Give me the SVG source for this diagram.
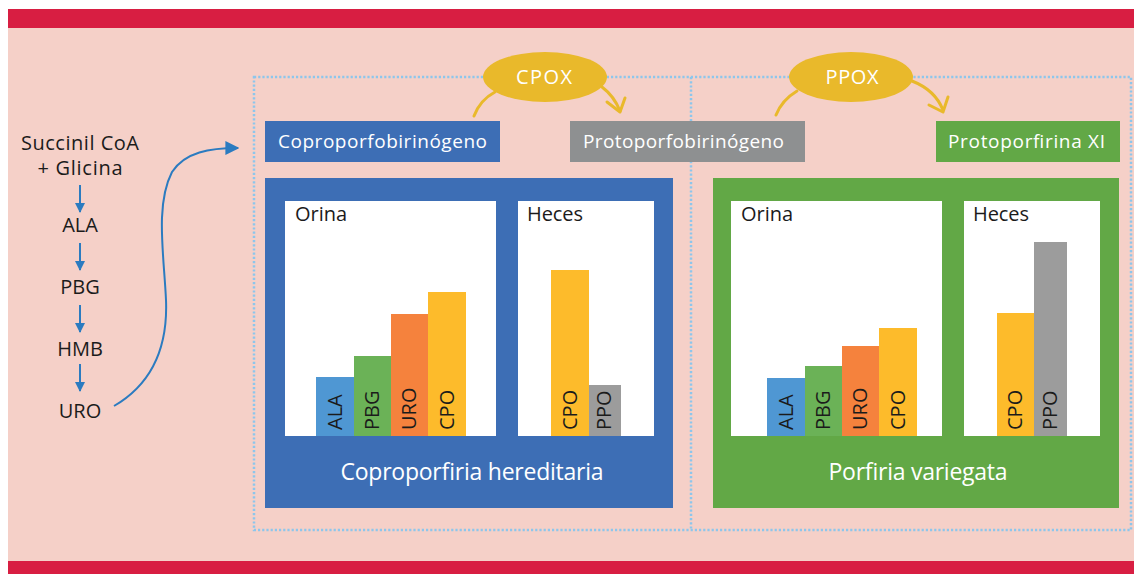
<svg xmlns="http://www.w3.org/2000/svg" width="1134" height="574" viewBox="0 0 1134 574">
<defs>
<style>
.t{font-family:"Open Sans","Liberation Sans",Arial,sans-serif;}
.dk{fill:#1b1b1b;font-size:20px;}
.wt{fill:#ffffff;}
.dot{fill:none;stroke:#8DC6EC;stroke-width:2.5;stroke-dasharray:2.2 2;}
.enz{fill:#E9B92B;}
.ea{fill:none;stroke:#E9B92B;stroke-width:3;stroke-linecap:round;stroke-linejoin:round;}
.ba{fill:none;stroke:#2B7BC0;stroke-width:2;}
.panel{fill:#ffffff;}
.bl{fill:#1b1b1b;font-size:20px;}
</style>
<marker id="ah" viewBox="0 0 10 10" refX="9" refY="5" markerWidth="5" markerHeight="5" orient="auto" markerUnits="strokeWidth">
<path d="M0,0 L10,5 L0,10 z" fill="#2B7BC0"/>
</marker>
<marker id="ah2" viewBox="0 0 10 10" refX="9" refY="5" markerWidth="7" markerHeight="7" orient="auto" markerUnits="strokeWidth">
<path d="M0,0 L10,5 L0,10 z" fill="#2B7BC0"/>
</marker>
</defs>
<rect x="0" y="0" width="1134" height="574" fill="#ffffff"/>
<rect x="8" y="9" width="1126" height="565" fill="#F5D0C8"/>
<rect x="8" y="9" width="1126" height="19" fill="#D81E42"/>
<rect x="8" y="561" width="1126" height="13" fill="#D81E42"/>

<g id="frame">
<rect class="dot" x="254" y="77" width="877" height="453"/>
<line class="dot" x1="691" y1="77" x2="691" y2="530"/>
</g>

<g id="pathway" class="t">
<text class="dk" x="80" y="150" text-anchor="middle" textLength="118">Succinil CoA</text>
<text class="dk" x="80" y="175" text-anchor="middle" textLength="85">+ Glicina</text>
<text class="dk" x="80" y="232" text-anchor="middle">ALA</text>
<text class="dk" x="80" y="294" text-anchor="middle">PBG</text>
<text class="dk" x="80" y="356" text-anchor="middle">HMB</text>
<text id="uro" class="dk" x="80" y="418" text-anchor="middle">URO</text>
</g>

<g id="connectors">
<line class="ba" x1="80" y1="185" x2="80" y2="212" marker-end="url(#ah)"/>
<line class="ba" x1="80" y1="243" x2="80" y2="270" marker-end="url(#ah)"/>
<line class="ba" x1="80" y1="305" x2="80" y2="332" marker-end="url(#ah)"/>
<line class="ba" x1="80" y1="364" x2="80" y2="391" marker-end="url(#ah)"/>
<path class="ba" d="M114,406 C150,385 168,350 166,300 C164,255 155,205 172,172 C185,152 210,148 238,148" marker-end="url(#ah2)"/>
<path class="ea" d="M474,116 Q480,100 495,92"/>
<path class="ea" d="M602,87 Q614,96 620,111"/>
<path class="ea" d="M607,102 L620,112 L625,98"/>
<path class="ea" d="M776,115 Q782,100 797,91"/>
<path class="ea" d="M912,81 Q935,90 943,110"/>
<path class="ea" d="M929,105 L943,112 L948,97"/>
</g>

<g id="cpox" class="t">
<ellipse class="enz" cx="545" cy="77" rx="62" ry="25"/>
<text class="wt" x="544" y="84" font-size="20" text-anchor="middle" textLength="56">CPOX</text>
</g>
<g id="ppox" class="t">
<ellipse class="enz" cx="851" cy="77" rx="62" ry="25"/>
<text class="wt" x="852" y="84" font-size="20" text-anchor="middle" textLength="53">PPOX</text>
</g>

<g id="coproporfobirinogeno" class="t">
<rect x="265" y="121" width="235" height="41" fill="#3D6EB5"/>
<text class="wt" x="278" y="148" font-size="19" textLength="209">Coproporfobirinógeno</text>
</g>
<g id="protoporfobirinogeno" class="t">
<rect x="570" y="121" width="235" height="41" fill="#8E9091"/>
<text class="wt" x="583" y="148" font-size="19" textLength="201">Protoporfobirinógeno</text>
</g>
<g id="protoporfirina" class="t">
<rect x="936" y="121" width="184" height="41" fill="#62A846"/>
<text class="wt" x="948" y="148" font-size="19" textLength="157">Protoporfirina XI</text>
</g>

<g id="coproporfiria" class="t">
<rect x="265" y="178" width="408" height="330" fill="#3D6EB5"/>
<rect class="panel" x="285" y="201" width="211" height="235"/>
<rect class="panel" x="518" y="201" width="136" height="235"/>
<text class="dk" x="295" y="221" textLength="52">Orina</text>
<text class="dk" x="527" y="221" textLength="56">Heces</text>
<rect x="316" y="377" width="38" height="59" fill="#4F97D3"/>
<rect x="354" y="356" width="37" height="80" fill="#6BB257"/>
<rect x="391" y="314" width="37" height="122" fill="#F5823D"/>
<rect x="428" y="292" width="38" height="144" fill="#FDBB2B"/>
<rect x="551" y="270" width="38" height="166" fill="#FDBB2B"/>
<rect x="589" y="385" width="32" height="51" fill="#9C9C9C"/>
<text class="bl" transform="translate(342,430) rotate(-90)">ALA</text>
<text class="bl" transform="translate(379,430) rotate(-90)">PBG</text>
<text class="bl" transform="translate(416,430) rotate(-90)">URO</text>
<text class="bl" transform="translate(454,430) rotate(-90)">CPO</text>
<text class="bl" transform="translate(577,430) rotate(-90)">CPO</text>
<text class="bl" transform="translate(611,430) rotate(-90)">PPO</text>
<text class="wt" x="472" y="480" font-size="23" text-anchor="middle" textLength="263">Coproporfiria hereditaria</text>
</g>

<g id="variegata" class="t">
<rect x="713" y="178" width="406" height="330" fill="#62A846"/>
<rect class="panel" x="731" y="201" width="211" height="235"/>
<rect class="panel" x="964" y="201" width="136" height="235"/>
<text class="dk" x="741" y="221" textLength="52">Orina</text>
<text class="dk" x="973" y="221" textLength="56">Heces</text>
<rect x="767" y="378" width="38" height="58" fill="#4F97D3"/>
<rect x="805" y="366" width="37" height="70" fill="#6BB257"/>
<rect x="842" y="346" width="37" height="90" fill="#F5823D"/>
<rect x="879" y="328" width="38" height="108" fill="#FDBB2B"/>
<rect x="997" y="313" width="37" height="123" fill="#FDBB2B"/>
<rect x="1034" y="242" width="33" height="194" fill="#9C9C9C"/>
<text class="bl" transform="translate(793,430) rotate(-90)">ALA</text>
<text class="bl" transform="translate(830,430) rotate(-90)">PBG</text>
<text class="bl" transform="translate(867,430) rotate(-90)">URO</text>
<text class="bl" transform="translate(905,430) rotate(-90)">CPO</text>
<text class="bl" transform="translate(1022,430) rotate(-90)">CPO</text>
<text class="bl" transform="translate(1057,430) rotate(-90)">PPO</text>
<text class="wt" x="918" y="480" font-size="23" text-anchor="middle" textLength="179">Porfiria variegata</text>
</g>
</svg>
